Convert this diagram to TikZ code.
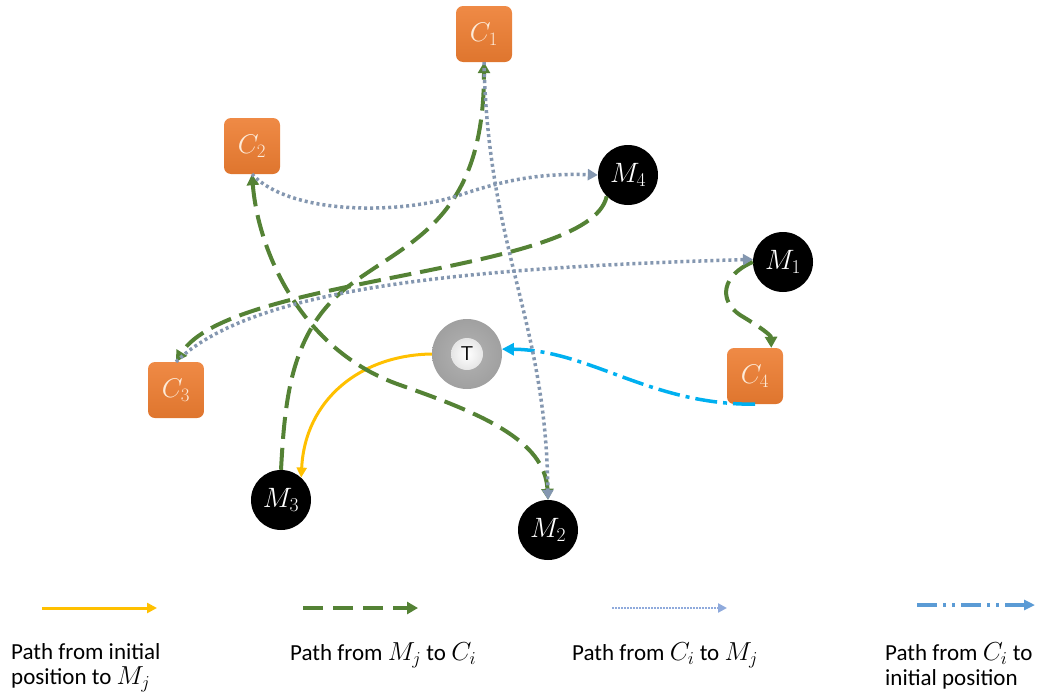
\documentclass[tikz,border=0pt]{standalone}
\usepackage{fix-cm}
\usepackage{fontspec}
\setmainfont{Carlito}
\usetikzlibrary{arrows.meta}

\definecolor{boxorange}{HTML}{ED7D31}
\definecolor{boxtext}{HTML}{FDEBD9}
\definecolor{pathgreen}{HTML}{548235}
\definecolor{pathgray}{HTML}{8497B0}
\definecolor{pathyellow}{HTML}{FFC000}
\definecolor{pathblue}{HTML}{00B0F0}
\definecolor{legblue}{HTML}{5B9BD5}
\definecolor{leggray}{HTML}{8FAADC}
\definecolor{ringgray}{HTML}{A0A0A0}

\newcommand{\legmath}[1]{{\fontsize{26}{25}\selectfont$#1$}}

\begin{document}
\begin{tikzpicture}[x=1pt, y=-1pt,
  cbox/.style={rectangle, rounded corners=7pt, minimum size=56pt,
    top color=boxorange!90!white, bottom color=boxorange!94!black,
    text=boxtext, font=\fontsize{27}{30}\selectfont},
  mball/.style={circle, minimum size=60pt, inner sep=1pt, fill=black, text=white,
    font=\fontsize{28}{30}\selectfont},
  ring/.style={circle, minimum size=70pt, inner color=ringgray!80, outer color=ringgray},
  hub/.style={circle, minimum size=32pt, inner sep=0pt,
    inner color=white, outer color=white!80!gray,
    font=\sffamily\fontsize{20}{24}\selectfont},
  ypath/.style={pathyellow, line width=3pt, -{Triangle[length=10pt, width=10pt]}},
  gpath/.style={pathgreen, line width=4pt, dash pattern=on 22pt off 9pt,
    -{Triangle[length=11pt, width=12pt]}},
  dpath/.style={pathgray, line width=3.5pt, dash pattern=on 3pt off 3pt,
    -{Triangle[length=10pt, width=11pt]}},
  bpath/.style={pathblue, line width=3.5pt, dash pattern=on 22pt off 6pt on 4pt off 6pt,
    -{Triangle[length=12pt, width=12pt]}},
  legtext/.style={anchor=north west, align=left, inner sep=0pt,
    font=\fontsize{23}{25}\selectfont}]
  \useasboundingbox (0,0) rectangle (1043,696);

  \node[cbox] (C1) at (484,34) {$C_1$};
  \node[cbox] (C2) at (252,146) {$C_2$};
  \node[cbox] (C3) at (176,390) {$C_3$};
  \node[cbox] (C4) at (755,376) {$C_4$};

  \node[mball] (M1) at (783,262) {$M_1$};
  \node[mball] (M2) at (548,530) {$M_2$};
  \node[mball] (M3) at (281,500) {$M_3$};
  \node[mball] (M4) at (628,175) {$M_4$};

  \node[ring] (T) at (467,354) {};
  \node[hub] (Tc) at (T) {T};

  % paths from the nodes
  \draw[ypath] (T.west) .. controls (360,355) and (305,400) .. (M3.48);
  \draw[bpath] (C4.south) .. controls (650,405) and (590,350) .. (T.8);

  \draw[gpath] (M4.225) .. controls (590,275) and (230,275) .. (C3.north);
  \draw[gpath] (M3.north) .. controls (285,400) and (290,330) .. (350,285)
    .. controls (410,240) and (484,220) .. (C1.south);
  \draw[gpath, {Triangle[length=11pt, width=12pt]}-{Triangle[length=11pt, width=12pt]}]
    (C2.south) .. controls (258,250) and (300,350) .. (400,385)
    .. controls (480,413) and (545,440) .. (M2.north);
  \draw[gpath] (M1.west) .. controls (722,275) and (718,300) .. (740,315)
    .. controls (760,327) and (771,335) .. (C4.60);

  \draw[dpath] (C2.south) .. controls (290,215) and (400,215) .. (460,195)
    .. controls (505,180) and (540,173) .. (M4.west);
  \draw[dpath] (C1.south) .. controls (488,250) and (546,320) .. (M2.north);
  \draw[dpath] (C3.north) .. controls (250,290) and (450,268) .. (M1.175);

  % legend
  \coordinate (ya) at (42,608);  \coordinate (yb) at (157,608);
  \coordinate (ga) at (303,608); \coordinate (gb) at (418,608);
  \coordinate (da) at (612,608); \coordinate (db) at (727,608);
  \coordinate (ba) at (917,605); \coordinate (bb) at (1035,605);
  \draw[ypath] (ya) -- (yb);
  \draw[gpath, line width=3.5pt, dash pattern=on 20pt off 10pt] (ga) -- (gb);
  \draw[leggray, line width=2.5pt, dash pattern=on 1.5pt off 1.5pt,
    -{Triangle[length=9pt, width=9pt]}] (da) -- (db);
  \draw[legblue, line width=3.5pt, dash pattern=on 20pt off 6pt on 3pt off 6pt on 3pt off 6pt,
    -{Triangle[length=11pt, width=10pt]}] (ba) -- (bb);

  \node[legtext] (L1) at (11,643) {Path from initial\\position to \legmath{M_j}};
  \node[legtext] (L2) at (290,643) {Path from \legmath{M_j} to \legmath{C_i}};
  \node[legtext] (L3) at (572,643) {Path from \legmath{C_i} to \legmath{M_j}};
  \node[legtext] (L4) at (885,643) {Path from \legmath{C_i} to\\initial position};
\end{tikzpicture}
\end{document}
